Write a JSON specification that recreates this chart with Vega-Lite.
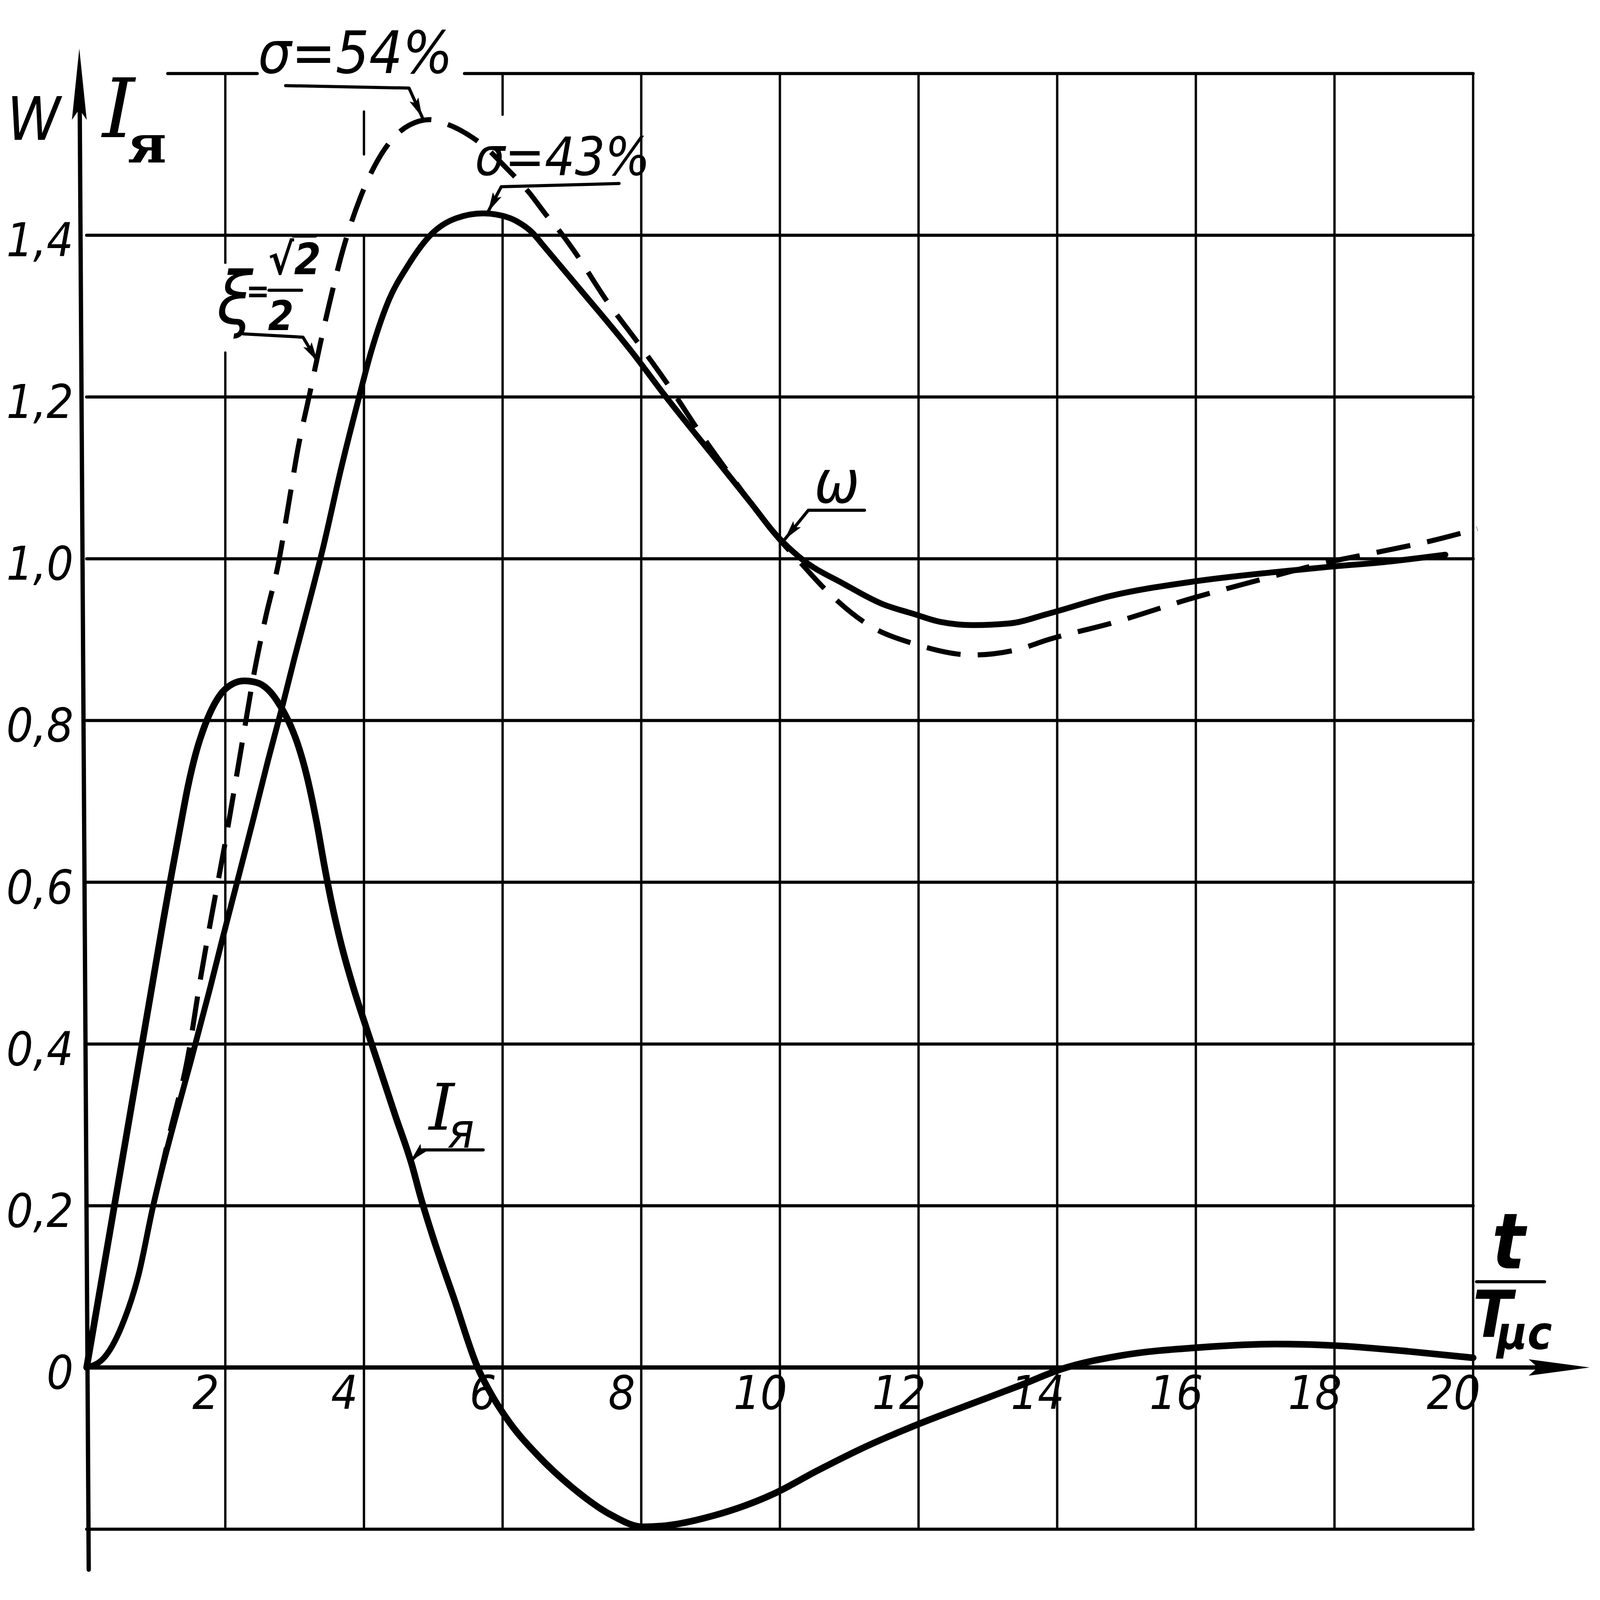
{
  "$schema": "https://vega.github.io/schema/vega-lite/v6.json",
  "width": 4096,
  "height": 4096,
  "autosize": {"type": "none"},
  "padding": 0,
  "background": "white",
  "config": {
    "view": {"stroke": null},
    "line": {"color": "black", "strokeCap": "round", "strokeJoin": "round"},
    "rule": {"color": "black", "strokeCap": "round"},
    "text": {"font": "Noto Sans ExtraCondensed, Noto Sans Condensed, DejaVu Sans Condensed, DejaVu Sans", "fontStyle": "italic", "color": "black", "align": "center", "baseline": "middle"}
  },
  "datasets": {
    "hgrid": [
      {"v": -0.2, "t": 0, "t2": 20},
      {"v": 0.2, "t": 0, "t2": 20},
      {"v": 0.4, "t": 0, "t2": 20},
      {"v": 0.6, "t": 0, "t2": 20},
      {"v": 0.8, "t": 0, "t2": 20},
      {"v": 1.0, "t": 0, "t2": 20},
      {"v": 1.2, "t": 0, "t2": 20},
      {"v": 1.4, "t": 0, "t2": 20},
      {"v": 1.6, "t": 1.17, "t2": 2.46},
      {"v": 1.6, "t": 5.45, "t2": 20}
    ],
    "vgrid": [
      {"t": 2, "v": 1.366, "v2": 1.6},
      {"t": 2, "v": -0.2, "v2": 1.255},
      {"t": 4, "v": 1.5, "v2": 1.553},
      {"t": 4, "v": -0.2, "v2": 1.4},
      {"t": 6, "v": 1.549, "v2": 1.6},
      {"t": 6, "v": -0.2, "v2": 1.425},
      {"t": 8, "v": -0.2, "v2": 1.6},
      {"t": 10, "v": -0.2, "v2": 1.6},
      {"t": 12, "v": -0.2, "v2": 1.6},
      {"t": 14, "v": -0.2, "v2": 1.6},
      {"t": 16, "v": -0.2, "v2": 1.6},
      {"t": 18, "v": -0.2, "v2": 1.6},
      {"t": 20, "v": -0.2, "v2": 1.6}
    ],
    "axes": [
      {"t": 0.03, "v": -0.25, "t2": -0.1, "v2": 1.56},
      {"t": 0, "v": 0, "t2": 20.9, "v2": 0}
    ],
    "tips": [
      {"id": "yaxis", "t": -0.106, "v": 1.631},
      {"id": "xaxis", "t": 21.68, "v": 0},
      {"id": "s54", "t": 4.84, "v": 1.546},
      {"id": "s43", "t": 5.79, "v": 1.429},
      {"id": "xi", "t": 3.33, "v": 1.244},
      {"id": "om", "t": 10.07, "v": 1.024},
      {"id": "ia", "t": 4.67, "v": 0.255}
    ],
    "ia": [
      {"t": 0, "v": 0}, {"t": 0.2, "v": 0.1}, {"t": 0.42, "v": 0.21}, {"t": 0.76, "v": 0.38},
      {"t": 0.97, "v": 0.485}, {"t": 1.11, "v": 0.555}, {"t": 1.22, "v": 0.608}, {"t": 1.36, "v": 0.673},
      {"t": 1.46, "v": 0.718}, {"t": 1.57, "v": 0.758}, {"t": 1.71, "v": 0.795}, {"t": 1.92, "v": 0.831},
      {"t": 2.1, "v": 0.845}, {"t": 2.27, "v": 0.849}, {"t": 2.45, "v": 0.847}, {"t": 2.62, "v": 0.838},
      {"t": 2.8, "v": 0.817}, {"t": 2.95, "v": 0.792}, {"t": 3.04, "v": 0.772}, {"t": 3.18, "v": 0.73},
      {"t": 3.32, "v": 0.673}, {"t": 3.43, "v": 0.62}, {"t": 3.53, "v": 0.576}, {"t": 3.67, "v": 0.524},
      {"t": 3.85, "v": 0.469}, {"t": 4.03, "v": 0.421}, {"t": 4.2, "v": 0.377}, {"t": 4.45, "v": 0.312},
      {"t": 4.69, "v": 0.251}, {"t": 4.82, "v": 0.21}, {"t": 5.0, "v": 0.16}, {"t": 5.3, "v": 0.085},
      {"t": 5.64, "v": 0.0}, {"t": 5.85, "v": -0.035}, {"t": 6.1, "v": -0.068}, {"t": 6.5, "v": -0.108},
      {"t": 7.0, "v": -0.148}, {"t": 7.58, "v": -0.183}, {"t": 8.02, "v": -0.197}, {"t": 8.3, "v": -0.196},
      {"t": 9.05, "v": -0.183}, {"t": 9.94, "v": -0.155}, {"t": 10.53, "v": -0.128}, {"t": 11.26, "v": -0.097},
      {"t": 12.0, "v": -0.07}, {"t": 12.73, "v": -0.046}, {"t": 13.47, "v": -0.022}, {"t": 14.06, "v": -0.002},
      {"t": 14.94, "v": 0.015}, {"t": 16.09, "v": 0.025}, {"t": 17.15, "v": 0.029}, {"t": 18.03, "v": 0.027},
      {"t": 19.06, "v": 0.02}, {"t": 20.0, "v": 0.012}
    ],
    "omega": [
      {"t": 0, "v": 0}, {"t": 0.25, "v": 0.012}, {"t": 0.5, "v": 0.05}, {"t": 0.75, "v": 0.115},
      {"t": 0.96, "v": 0.2}, {"t": 1.1, "v": 0.25}, {"t": 1.3, "v": 0.315}, {"t": 1.5, "v": 0.378},
      {"t": 1.78, "v": 0.469}, {"t": 1.95, "v": 0.527}, {"t": 2.2, "v": 0.61}, {"t": 2.41, "v": 0.68},
      {"t": 2.62, "v": 0.752}, {"t": 2.83, "v": 0.82}, {"t": 3.0, "v": 0.878}, {"t": 3.2, "v": 0.943},
      {"t": 3.4, "v": 1.01}, {"t": 3.68, "v": 1.115}, {"t": 3.93, "v": 1.2}, {"t": 4.1, "v": 1.255},
      {"t": 4.35, "v": 1.318}, {"t": 4.63, "v": 1.362}, {"t": 4.98, "v": 1.402}, {"t": 5.33, "v": 1.421},
      {"t": 5.72, "v": 1.427}, {"t": 6.0, "v": 1.424}, {"t": 6.21, "v": 1.417}, {"t": 6.42, "v": 1.404},
      {"t": 6.6, "v": 1.386}, {"t": 7.1, "v": 1.335}, {"t": 7.89, "v": 1.253}, {"t": 8.34, "v": 1.202},
      {"t": 9.03, "v": 1.128}, {"t": 9.59, "v": 1.068}, {"t": 9.93, "v": 1.031}, {"t": 10.31, "v": 1.0},
      {"t": 10.92, "v": 0.969}, {"t": 11.48, "v": 0.944}, {"t": 11.92, "v": 0.932}, {"t": 12.31, "v": 0.922},
      {"t": 12.78, "v": 0.918}, {"t": 13.31, "v": 0.92}, {"t": 13.87, "v": 0.932}, {"t": 14.77, "v": 0.954},
      {"t": 15.98, "v": 0.972}, {"t": 17.08, "v": 0.983}, {"t": 17.92, "v": 0.99}, {"t": 18.73, "v": 0.996},
      {"t": 19.6, "v": 1.005}
    ],
    "dashed": [
      {"t": 0, "v": 0}, {"t": 0.25, "v": 0.012}, {"t": 0.5, "v": 0.05}, {"t": 0.75, "v": 0.115},
      {"t": 0.96, "v": 0.2}, {"t": 1.2, "v": 0.29}, {"t": 1.46, "v": 0.384}, {"t": 1.64, "v": 0.48},
      {"t": 1.81, "v": 0.562}, {"t": 1.99, "v": 0.645}, {"t": 2.13, "v": 0.715}, {"t": 2.27, "v": 0.786},
      {"t": 2.41, "v": 0.856}, {"t": 2.58, "v": 0.927}, {"t": 2.77, "v": 0.996}, {"t": 2.91, "v": 1.066},
      {"t": 3.05, "v": 1.137}, {"t": 3.22, "v": 1.205}, {"t": 3.36, "v": 1.262}, {"t": 3.5, "v": 1.315},
      {"t": 3.7, "v": 1.383}, {"t": 3.95, "v": 1.447}, {"t": 4.15, "v": 1.485}, {"t": 4.4, "v": 1.518},
      {"t": 4.65, "v": 1.536}, {"t": 4.95, "v": 1.543}, {"t": 5.18, "v": 1.538}, {"t": 5.49, "v": 1.525},
      {"t": 5.79, "v": 1.506}, {"t": 6.01, "v": 1.487}, {"t": 6.39, "v": 1.452}, {"t": 6.62, "v": 1.426},
      {"t": 6.85, "v": 1.402}, {"t": 7.02, "v": 1.382}, {"t": 7.51, "v": 1.318}, {"t": 7.97, "v": 1.265},
      {"t": 8.42, "v": 1.211}, {"t": 8.83, "v": 1.158}, {"t": 9.4, "v": 1.09}, {"t": 9.93, "v": 1.03},
      {"t": 10.3, "v": 0.995}, {"t": 10.61, "v": 0.966}, {"t": 11.3, "v": 0.917}, {"t": 11.97, "v": 0.894},
      {"t": 12.78, "v": 0.881}, {"t": 13.44, "v": 0.888}, {"t": 13.87, "v": 0.9}, {"t": 14.77, "v": 0.92},
      {"t": 15.98, "v": 0.952}, {"t": 16.75, "v": 0.97}, {"t": 17.92, "v": 0.996}, {"t": 18.73, "v": 1.01},
      {"t": 19.39, "v": 1.022}, {"t": 20.06, "v": 1.037}
    ],
    "leaders": [
      {"id": "s54", "ord": 1, "t": 2.87, "v": 1.585}, {"id": "s54", "ord": 2, "t": 4.65, "v": 1.582}, {"id": "s54", "ord": 3, "t": 4.84, "v": 1.546},
      {"id": "s43", "ord": 1, "t": 7.68, "v": 1.464}, {"id": "s43", "ord": 2, "t": 5.98, "v": 1.46}, {"id": "s43", "ord": 3, "t": 5.79, "v": 1.429},
      {"id": "xi", "ord": 1, "t": 2.26, "v": 1.278}, {"id": "xi", "ord": 2, "t": 3.12, "v": 1.274}, {"id": "xi", "ord": 3, "t": 3.33, "v": 1.244},
      {"id": "om", "ord": 1, "t": 11.22, "v": 1.06}, {"id": "om", "ord": 2, "t": 10.41, "v": 1.06}, {"id": "om", "ord": 3, "t": 10.07, "v": 1.024},
      {"id": "ia", "ord": 1, "t": 5.72, "v": 0.269}, {"id": "ia", "ord": 2, "t": 4.84, "v": 0.269}, {"id": "ia", "ord": 3, "t": 4.67, "v": 0.255},
      {"id": "fxi", "ord": 1, "t": 2.63, "v": 1.332}, {"id": "fxi", "ord": 2, "t": 3.1, "v": 1.332},
      {"id": "sqrt", "ord": 1, "t": 2.98, "v": 1.399}, {"id": "sqrt", "ord": 2, "t": 3.3, "v": 1.399},
      {"id": "ft", "ord": 1, "t": 20.05, "v": 0.106}, {"id": "ft", "ord": 2, "t": 21.03, "v": 0.106}
    ],
    "ylabels": [
      {"v": 0, "label": "0"}, {"v": 0.2, "label": "0,2"}, {"v": 0.4, "label": "0,4"}, {"v": 0.6, "label": "0,6"},
      {"v": 0.8, "label": "0,8"}, {"v": 1.0, "label": "1,0"}, {"v": 1.2, "label": "1,2"}, {"v": 1.4, "label": "1,4"}
    ],
    "xlabels": [
      {"t": 2, "label": "2"}, {"t": 4, "label": "4"}, {"t": 6, "label": "6"}, {"t": 8, "label": "8"},
      {"t": 10, "label": "10"}, {"t": 12, "label": "12"}, {"t": 14, "label": "14"}, {"t": 16, "label": "16"},
      {"t": 18, "label": "18"}, {"t": 20, "label": "20"}
    ],
    "notes": [
      {"id": "sig54", "t": 3.877, "v": 1.6225, "label": "σ=54%"},
      {"id": "sig43", "t": 6.864, "v": 1.4943, "label": "σ=43%"},
      {"id": "xi", "t": 2.14, "v": 1.318, "label": "ξ"},
      {"id": "eq", "t": 2.47, "v": 1.329, "label": "="},
      {"id": "root", "t": 3.0, "v": 1.368, "label": "√2"},
      {"id": "den", "t": 2.8, "v": 1.298, "label": "2"},
      {"id": "om", "t": 10.822, "v": 1.0913, "label": "ω"},
      {"id": "iamid", "t": 5.12, "v": 0.318, "label": "I"},
      {"id": "yamid", "t": 5.4, "v": 0.29, "label": "я"},
      {"id": "w", "t": -0.763, "v": 1.54, "label": "W"},
      {"id": "iatop", "t": 0.46, "v": 1.552, "label": "I"},
      {"id": "yatop", "t": 0.87, "v": 1.51, "label": "я"},
      {"id": "tnum", "t": 20.51, "v": 0.151, "label": "t"},
      {"id": "tden", "t": 20.28, "v": 0.062, "label": "T"},
      {"id": "mus", "t": 20.74, "v": 0.04, "label": "μс"}
    ]
  },
  "layer": [
    {
      "data": {"name": "hgrid"},
      "mark": {"type": "rule", "strokeWidth": 8},
      "encoding": {
        "x": {"field": "t", "type": "quantitative", "scale": {"domain": [-1.25, 21.83], "nice": false, "zero": false}, "axis": null},
        "x2": {"field": "t2"},
        "y": {"field": "v", "type": "quantitative", "scale": {"domain": [-0.2875, 1.6909], "nice": false, "zero": false}, "axis": null}
      }
    },
    {
      "data": {"name": "vgrid"},
      "mark": {"type": "rule", "strokeWidth": 6},
      "encoding": {
        "x": {"field": "t", "type": "quantitative", "scale": {"domain": [-1.25, 21.83], "nice": false, "zero": false}, "axis": null},
        "y": {"field": "v", "type": "quantitative", "scale": {"domain": [-0.2875, 1.6909], "nice": false, "zero": false}, "axis": null},
        "y2": {"field": "v2"}
      }
    },
    {
      "data": {"name": "axes"},
      "mark": {"type": "rule", "strokeWidth": 11},
      "encoding": {
        "x": {"field": "t", "type": "quantitative", "scale": {"domain": [-1.25, 21.83], "nice": false, "zero": false}, "axis": null},
        "x2": {"field": "t2"},
        "y": {"field": "v", "type": "quantitative", "scale": {"domain": [-0.2875, 1.6909], "nice": false, "zero": false}, "axis": null},
        "y2": {"field": "v2"}
      }
    },
    {
      "data": {"name": "tips"},
      "transform": [{"filter": "datum.id == 'yaxis'"}],
      "mark": {"type": "point", "shape": "M0,0L0.207,2L0,1.7L-0.207,2Z", "size": 33489, "filled": true, "color": "black", "opacity": 1, "strokeWidth": 0},
      "encoding": {
        "x": {"field": "t", "type": "quantitative", "scale": {"domain": [-1.25, 21.83], "nice": false, "zero": false}, "axis": null},
        "y": {"field": "v", "type": "quantitative", "scale": {"domain": [-0.2875, 1.6909], "nice": false, "zero": false}, "axis": null}
      }
    },
    {
      "data": {"name": "tips"},
      "transform": [{"filter": "datum.id == 'xaxis'"}],
      "mark": {"type": "point", "shape": "M0,0L-2,-0.27L-1.7,0L-2,0.27Z", "size": 24336, "filled": true, "color": "black", "opacity": 1, "strokeWidth": 0},
      "encoding": {
        "x": {"field": "t", "type": "quantitative", "scale": {"domain": [-1.25, 21.83], "nice": false, "zero": false}, "axis": null},
        "y": {"field": "v", "type": "quantitative", "scale": {"domain": [-0.2875, 1.6909], "nice": false, "zero": false}, "axis": null}
      }
    },
    {
      "data": {"name": "ia"},
      "mark": {"type": "line", "strokeWidth": 17, "interpolate": "monotone"},
      "encoding": {
        "x": {"field": "t", "type": "quantitative", "scale": {"domain": [-1.25, 21.83], "nice": false, "zero": false}, "axis": null},
        "y": {"field": "v", "type": "quantitative", "scale": {"domain": [-0.2875, 1.6909], "nice": false, "zero": false}, "axis": null}
      }
    },
    {
      "data": {"name": "omega"},
      "mark": {"type": "line", "strokeWidth": 15, "interpolate": "monotone"},
      "encoding": {
        "x": {"field": "t", "type": "quantitative", "scale": {"domain": [-1.25, 21.83], "nice": false, "zero": false}, "axis": null},
        "y": {"field": "v", "type": "quantitative", "scale": {"domain": [-0.2875, 1.6909], "nice": false, "zero": false}, "axis": null}
      }
    },
    {
      "data": {"name": "dashed"},
      "mark": {"type": "line", "strokeWidth": 13, "interpolate": "monotone", "strokeDash": [88, 44], "strokeCap": "butt"},
      "encoding": {
        "x": {"field": "t", "type": "quantitative", "scale": {"domain": [-1.25, 21.83], "nice": false, "zero": false}, "axis": null},
        "y": {"field": "v", "type": "quantitative", "scale": {"domain": [-0.2875, 1.6909], "nice": false, "zero": false}, "axis": null}
      }
    },
    {
      "data": {"name": "leaders"},
      "mark": {"type": "line", "strokeWidth": 8},
      "encoding": {
        "x": {"field": "t", "type": "quantitative", "scale": {"domain": [-1.25, 21.83], "nice": false, "zero": false}, "axis": null},
        "y": {"field": "v", "type": "quantitative", "scale": {"domain": [-0.2875, 1.6909], "nice": false, "zero": false}, "axis": null},
        "detail": {"field": "id"},
        "order": {"field": "ord"}
      }
    },
    {
      "data": {"name": "tips"},
      "transform": [{"filter": "datum.id == 's54'"}],
      "mark": {"type": "point", "shape": "M0,0L0.5,2L0,1.6L-0.5,2Z", "size": 2500, "angle": 155, "filled": true, "color": "black", "opacity": 1, "strokeWidth": 0},
      "encoding": {
        "x": {"field": "t", "type": "quantitative", "scale": {"domain": [-1.25, 21.83], "nice": false, "zero": false}, "axis": null},
        "y": {"field": "v", "type": "quantitative", "scale": {"domain": [-0.2875, 1.6909], "nice": false, "zero": false}, "axis": null}
      }
    },
    {
      "data": {"name": "tips"},
      "transform": [{"filter": "datum.id == 's43'"}],
      "mark": {"type": "point", "shape": "M0,0L0.5,2L0,1.6L-0.5,2Z", "size": 2500, "angle": 208, "filled": true, "color": "black", "opacity": 1, "strokeWidth": 0},
      "encoding": {
        "x": {"field": "t", "type": "quantitative", "scale": {"domain": [-1.25, 21.83], "nice": false, "zero": false}, "axis": null},
        "y": {"field": "v", "type": "quantitative", "scale": {"domain": [-0.2875, 1.6909], "nice": false, "zero": false}, "axis": null}
      }
    },
    {
      "data": {"name": "tips"},
      "transform": [{"filter": "datum.id == 'xi'"}],
      "mark": {"type": "point", "shape": "M0,0L0.5,2L0,1.6L-0.5,2Z", "size": 2500, "angle": 149, "filled": true, "color": "black", "opacity": 1, "strokeWidth": 0},
      "encoding": {
        "x": {"field": "t", "type": "quantitative", "scale": {"domain": [-1.25, 21.83], "nice": false, "zero": false}, "axis": null},
        "y": {"field": "v", "type": "quantitative", "scale": {"domain": [-0.2875, 1.6909], "nice": false, "zero": false}, "axis": null}
      }
    },
    {
      "data": {"name": "tips"},
      "transform": [{"filter": "datum.id == 'om'"}],
      "mark": {"type": "point", "shape": "M0,0L0.5,2L0,1.6L-0.5,2Z", "size": 2500, "angle": 219, "filled": true, "color": "black", "opacity": 1, "strokeWidth": 0},
      "encoding": {
        "x": {"field": "t", "type": "quantitative", "scale": {"domain": [-1.25, 21.83], "nice": false, "zero": false}, "axis": null},
        "y": {"field": "v", "type": "quantitative", "scale": {"domain": [-0.2875, 1.6909], "nice": false, "zero": false}, "axis": null}
      }
    },
    {
      "data": {"name": "tips"},
      "transform": [{"filter": "datum.id == 'ia'"}],
      "mark": {"type": "point", "shape": "M0,0L0.5,2L0,1.6L-0.5,2Z", "size": 2500, "angle": 224, "filled": true, "color": "black", "opacity": 1, "strokeWidth": 0},
      "encoding": {
        "x": {"field": "t", "type": "quantitative", "scale": {"domain": [-1.25, 21.83], "nice": false, "zero": false}, "axis": null},
        "y": {"field": "v", "type": "quantitative", "scale": {"domain": [-0.2875, 1.6909], "nice": false, "zero": false}, "axis": null}
      }
    },
    {
      "data": {"name": "ylabels"},
      "mark": {"type": "text", "fontSize": 120, "align": "right", "dx": -34, "dy": 18},
      "encoding": {
        "x": {"datum": 0, "type": "quantitative", "scale": {"domain": [-1.25, 21.83], "nice": false, "zero": false}, "axis": null},
        "y": {"field": "v", "type": "quantitative", "scale": {"domain": [-0.2875, 1.6909], "nice": false, "zero": false}, "axis": null},
        "text": {"field": "label"}
      }
    },
    {
      "data": {"name": "xlabels"},
      "mark": {"type": "text", "fontSize": 120, "dx": -50, "dy": 70},
      "encoding": {
        "x": {"field": "t", "type": "quantitative", "scale": {"domain": [-1.25, 21.83], "nice": false, "zero": false}, "axis": null},
        "y": {"datum": 0, "type": "quantitative", "scale": {"domain": [-0.2875, 1.6909], "nice": false, "zero": false}, "axis": null},
        "text": {"field": "label"}
      }
    },
    {
      "data": {"name": "notes"},
      "transform": [{"filter": "datum.id == 'sig54'"}],
      "mark": {"type": "text", "fontSize": 150},
      "encoding": {
        "x": {"field": "t", "type": "quantitative", "scale": {"domain": [-1.25, 21.83], "nice": false, "zero": false}, "axis": null},
        "y": {"field": "v", "type": "quantitative", "scale": {"domain": [-0.2875, 1.6909], "nice": false, "zero": false}, "axis": null},
        "text": {"field": "label"}
      }
    },
    {
      "data": {"name": "notes"},
      "transform": [{"filter": "datum.id == 'sig43'"}],
      "mark": {"type": "text", "fontSize": 135},
      "encoding": {
        "x": {"field": "t", "type": "quantitative", "scale": {"domain": [-1.25, 21.83], "nice": false, "zero": false}, "axis": null},
        "y": {"field": "v", "type": "quantitative", "scale": {"domain": [-0.2875, 1.6909], "nice": false, "zero": false}, "axis": null},
        "text": {"field": "label"}
      }
    },
    {
      "data": {"name": "notes"},
      "transform": [{"filter": "datum.id == 'xi'"}],
      "mark": {"type": "text", "fontSize": 185},
      "encoding": {
        "x": {"field": "t", "type": "quantitative", "scale": {"domain": [-1.25, 21.83], "nice": false, "zero": false}, "axis": null},
        "y": {"field": "v", "type": "quantitative", "scale": {"domain": [-0.2875, 1.6909], "nice": false, "zero": false}, "axis": null},
        "text": {"field": "label"}
      }
    },
    {
      "data": {"name": "notes"},
      "transform": [{"filter": "datum.id == 'eq'"}],
      "mark": {"type": "text", "fontSize": 80, "fontWeight": "bold"},
      "encoding": {
        "x": {"field": "t", "type": "quantitative", "scale": {"domain": [-1.25, 21.83], "nice": false, "zero": false}, "axis": null},
        "y": {"field": "v", "type": "quantitative", "scale": {"domain": [-0.2875, 1.6909], "nice": false, "zero": false}, "axis": null},
        "text": {"field": "label"}
      }
    },
    {
      "data": {"name": "notes"},
      "transform": [{"filter": "datum.id == 'den'"}],
      "mark": {"type": "text", "fontSize": 105, "fontWeight": "bold"},
      "encoding": {
        "x": {"field": "t", "type": "quantitative", "scale": {"domain": [-1.25, 21.83], "nice": false, "zero": false}, "axis": null},
        "y": {"field": "v", "type": "quantitative", "scale": {"domain": [-0.2875, 1.6909], "nice": false, "zero": false}, "axis": null},
        "text": {"field": "label"}
      }
    },
    {
      "data": {"name": "notes"},
      "transform": [{"filter": "datum.id == 'root'"}],
      "mark": {"type": "text", "fontSize": 110, "fontWeight": "bold"},
      "encoding": {
        "x": {"field": "t", "type": "quantitative", "scale": {"domain": [-1.25, 21.83], "nice": false, "zero": false}, "axis": null},
        "y": {"field": "v", "type": "quantitative", "scale": {"domain": [-0.2875, 1.6909], "nice": false, "zero": false}, "axis": null},
        "text": {"field": "label"}
      }
    },
    {
      "data": {"name": "notes"},
      "transform": [{"filter": "datum.id == 'om' || datum.id == 'w'"}],
      "mark": {"type": "text", "fontSize": 154},
      "encoding": {
        "x": {"field": "t", "type": "quantitative", "scale": {"domain": [-1.25, 21.83], "nice": false, "zero": false}, "axis": null},
        "y": {"field": "v", "type": "quantitative", "scale": {"domain": [-0.2875, 1.6909], "nice": false, "zero": false}, "axis": null},
        "text": {"field": "label"}
      }
    },
    {
      "data": {"name": "notes"},
      "transform": [{"filter": "datum.id == 'iamid'"}],
      "mark": {"type": "text", "fontSize": 165, "font": "DejaVu Serif"},
      "encoding": {
        "x": {"field": "t", "type": "quantitative", "scale": {"domain": [-1.25, 21.83], "nice": false, "zero": false}, "axis": null},
        "y": {"field": "v", "type": "quantitative", "scale": {"domain": [-0.2875, 1.6909], "nice": false, "zero": false}, "axis": null},
        "text": {"field": "label"}
      }
    },
    {
      "data": {"name": "notes"},
      "transform": [{"filter": "datum.id == 'yamid'"}],
      "mark": {"type": "text", "fontSize": 125},
      "encoding": {
        "x": {"field": "t", "type": "quantitative", "scale": {"domain": [-1.25, 21.83], "nice": false, "zero": false}, "axis": null},
        "y": {"field": "v", "type": "quantitative", "scale": {"domain": [-0.2875, 1.6909], "nice": false, "zero": false}, "axis": null},
        "text": {"field": "label"}
      }
    },
    {
      "data": {"name": "notes"},
      "transform": [{"filter": "datum.id == 'iatop'"}],
      "mark": {"type": "text", "fontSize": 210, "font": "DejaVu Serif"},
      "encoding": {
        "x": {"field": "t", "type": "quantitative", "scale": {"domain": [-1.25, 21.83], "nice": false, "zero": false}, "axis": null},
        "y": {"field": "v", "type": "quantitative", "scale": {"domain": [-0.2875, 1.6909], "nice": false, "zero": false}, "axis": null},
        "text": {"field": "label"}
      }
    },
    {
      "data": {"name": "notes"},
      "transform": [{"filter": "datum.id == 'yatop'"}],
      "mark": {"type": "text", "fontSize": 135, "font": "DejaVu Serif", "fontStyle": "normal", "fontWeight": "bold"},
      "encoding": {
        "x": {"field": "t", "type": "quantitative", "scale": {"domain": [-1.25, 21.83], "nice": false, "zero": false}, "axis": null},
        "y": {"field": "v", "type": "quantitative", "scale": {"domain": [-0.2875, 1.6909], "nice": false, "zero": false}, "axis": null},
        "text": {"field": "label"}
      }
    },
    {
      "data": {"name": "notes"},
      "transform": [{"filter": "datum.id == 'tnum'"}],
      "mark": {"type": "text", "fontSize": 198, "fontWeight": "bold"},
      "encoding": {
        "x": {"field": "t", "type": "quantitative", "scale": {"domain": [-1.25, 21.83], "nice": false, "zero": false}, "axis": null},
        "y": {"field": "v", "type": "quantitative", "scale": {"domain": [-0.2875, 1.6909], "nice": false, "zero": false}, "axis": null},
        "text": {"field": "label"}
      }
    },
    {
      "data": {"name": "notes"},
      "transform": [{"filter": "datum.id == 'tden'"}],
      "mark": {"type": "text", "fontSize": 165, "fontWeight": "bold"},
      "encoding": {
        "x": {"field": "t", "type": "quantitative", "scale": {"domain": [-1.25, 21.83], "nice": false, "zero": false}, "axis": null},
        "y": {"field": "v", "type": "quantitative", "scale": {"domain": [-0.2875, 1.6909], "nice": false, "zero": false}, "axis": null},
        "text": {"field": "label"}
      }
    },
    {
      "data": {"name": "notes"},
      "transform": [{"filter": "datum.id == 'mus'"}],
      "mark": {"type": "text", "fontSize": 118, "fontWeight": "bold"},
      "encoding": {
        "x": {"field": "t", "type": "quantitative", "scale": {"domain": [-1.25, 21.83], "nice": false, "zero": false}, "axis": null},
        "y": {"field": "v", "type": "quantitative", "scale": {"domain": [-0.2875, 1.6909], "nice": false, "zero": false}, "axis": null},
        "text": {"field": "label"}
      }
    }
  ]
}
